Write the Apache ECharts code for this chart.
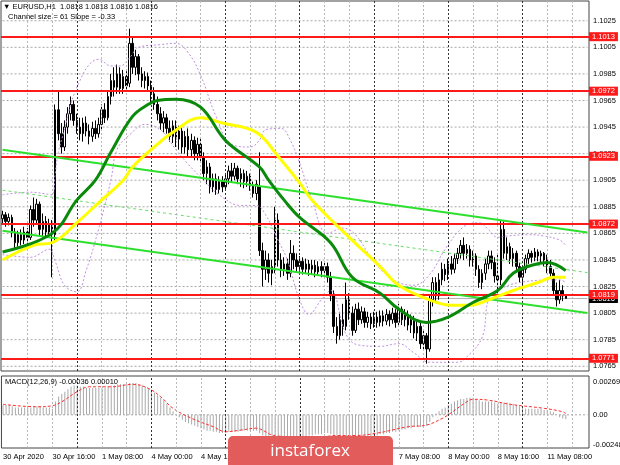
<!DOCTYPE html>
<html><head><meta charset="utf-8">
<script src="https://cdn.jsdelivr.net/npm/echarts@6/dist/echarts.min.js"></script>
<style>html,body{margin:0;padding:0;background:#fff}#c{width:620px;height:465px}</style>
</head><body><div id="c"></div>
<script>
// ---- categories (H1 bars) ----
const days = [['30 Apr',24],['1 May',24],['4 May',24],['5 May',24],['6 May',24],['7 May',24],['8 May',24],['11 May',22]];
const categories = [];
days.forEach(function(d){ for (let h=0; h<d[1]; h++) categories.push(d[0]+' '+String(h).padStart(2,'0')+':00'); });
categories[0] = '30 Apr 2020';

// ---- candles [open, close, low, high] ----
const ohlc = [
[1.0876,1.0879,1.0872,1.0882],[1.0879,1.0874,1.0870,1.0881],[1.0874,1.0877,1.0871,1.0880],[1.0877,1.0866,1.0862,1.0879],
[1.0866,1.0858,1.0854,1.0869],[1.0858,1.0864,1.0855,1.0867],[1.0864,1.0860,1.0856,1.0868],[1.0860,1.0866,1.0857,1.0870],
[1.0866,1.0862,1.0857,1.0869],[1.0862,1.0883,1.0860,1.0886],[1.0883,1.0875,1.0870,1.0892],[1.0875,1.0887,1.0872,1.0891],
[1.0887,1.0868,1.0863,1.0889],[1.0868,1.0874,1.0862,1.0880],[1.0874,1.0866,1.0862,1.0878],[1.0866,1.0872,1.0863,1.0876],
[1.0872,1.0864,1.0832,1.0875],[1.0864,1.0958,1.0858,1.0962],[1.0958,1.0940,1.0935,1.0972],[1.0940,1.0930,1.0925,1.0948],
[1.0930,1.0945,1.0927,1.0950],[1.0945,1.0955,1.0940,1.0960],[1.0955,1.0962,1.0950,1.0968],[1.0962,1.0950,1.0946,1.0965],
[1.0950,1.0945,1.0940,1.0955],[1.0945,1.0940,1.0935,1.0952],[1.0940,1.0948,1.0934,1.0952],[1.0948,1.0942,1.0938,1.0953],
[1.0942,1.0938,1.0932,1.0947],[1.0938,1.0944,1.0934,1.0949],[1.0944,1.0940,1.0936,1.0950],[1.0940,1.0947,1.0937,1.0952],
[1.0947,1.0958,1.0943,1.0962],[1.0958,1.0952,1.0948,1.0963],[1.0952,1.0968,1.0950,1.0972],[1.0968,1.0980,1.0962,1.0985],
[1.0980,1.0975,1.0968,1.0990],[1.0975,1.0985,1.0970,1.0992],[1.0985,1.0974,1.0970,1.0990],[1.0974,1.0983,1.0970,1.0988],
[1.0983,1.0976,1.0972,1.0987],[1.0978,1.1008,1.0975,1.1019],[1.1008,1.0990,1.0985,1.1012],[1.0990,1.0998,1.0984,1.1003],
[1.0998,1.0985,1.0980,1.1000],[1.0985,1.0980,1.0975,1.0990],[1.0980,1.0983,1.0974,1.0987],[1.0983,1.0976,1.0972,1.0986],
[1.0976,1.0970,1.0962,1.0980],[1.0970,1.0962,1.0958,1.0975],[1.0962,1.0955,1.0950,1.0968],[1.0955,1.0948,1.0943,1.0960],
[1.0948,1.0952,1.0941,1.0957],[1.0952,1.0944,1.0940,1.0955],[1.0944,1.0938,1.0934,1.0950],[1.0938,1.0946,1.0933,1.0950],
[1.0946,1.0936,1.0930,1.0950],[1.0936,1.0942,1.0928,1.0946],[1.0942,1.0930,1.0925,1.0945],[1.0930,1.0938,1.0925,1.0942],
[1.0938,1.0928,1.0923,1.0944],[1.0928,1.0935,1.0922,1.0940],[1.0935,1.0925,1.0920,1.0938],[1.0925,1.0932,1.0920,1.0937],
[1.0932,1.0922,1.0918,1.0936],[1.0922,1.0910,1.0905,1.0926],[1.0910,1.0915,1.0902,1.0920],[1.0915,1.0900,1.0895,1.0918],
[1.0900,1.0906,1.0896,1.0910],[1.0906,1.0898,1.0894,1.0910],[1.0898,1.0904,1.0895,1.0908],[1.0904,1.0900,1.0896,1.0908],
[1.0900,1.0906,1.0897,1.0910],[1.0906,1.0912,1.0902,1.0916],[1.0912,1.0908,1.0903,1.0918],[1.0908,1.0914,1.0905,1.0918],
[1.0914,1.0906,1.0902,1.0916],[1.0906,1.0910,1.0900,1.0914],[1.0910,1.0904,1.0899,1.0913],[1.0904,1.0908,1.0900,1.0912],
[1.0908,1.0901,1.0897,1.0910],[1.0901,1.0895,1.0892,1.0904],[1.0895,1.0902,1.0890,1.0905],[1.0900,1.0852,1.0848,1.0926],
[1.0852,1.0838,1.0825,1.0858],[1.0838,1.0845,1.0830,1.0852],[1.0845,1.0835,1.0828,1.0850],[1.0835,1.0840,1.0826,1.0845],
[1.0840,1.0875,1.0835,1.0885],[1.0875,1.0845,1.0840,1.0880],[1.0845,1.0838,1.0832,1.0850],[1.0838,1.0842,1.0833,1.0847],
[1.0842,1.0835,1.0830,1.0846],[1.0835,1.0850,1.0832,1.0860],[1.0850,1.0845,1.0838,1.0856],[1.0845,1.0840,1.0836,1.0850],
[1.0840,1.0844,1.0836,1.0848],[1.0844,1.0838,1.0834,1.0847],[1.0838,1.0842,1.0835,1.0846],[1.0842,1.0838,1.0833,1.0845],
[1.0838,1.0841,1.0834,1.0845],[1.0841,1.0836,1.0832,1.0845],[1.0836,1.0840,1.0833,1.0844],[1.0840,1.0837,1.0832,1.0844],
[1.0837,1.0840,1.0833,1.0843],[1.0840,1.0832,1.0828,1.0843],[1.0832,1.0818,1.0814,1.0836],[1.0818,1.0795,1.0790,1.0822],
[1.0795,1.0788,1.0782,1.0802],[1.0788,1.0800,1.0785,1.0806],[1.0800,1.0795,1.0788,1.0812],[1.0795,1.0815,1.0792,1.0828],
[1.0815,1.0805,1.0800,1.0820],[1.0805,1.0792,1.0788,1.0810],[1.0792,1.0808,1.0790,1.0812],[1.0808,1.0800,1.0796,1.0813],
[1.0800,1.0806,1.0797,1.0810],[1.0806,1.0798,1.0794,1.0809],[1.0798,1.0802,1.0794,1.0806],[1.0802,1.0797,1.0793,1.0805],
[1.0797,1.0802,1.0794,1.0806],[1.0802,1.0798,1.0794,1.0806],[1.0798,1.0803,1.0795,1.0807],[1.0803,1.0799,1.0795,1.0807],
[1.0799,1.0804,1.0796,1.0808],[1.0804,1.0800,1.0795,1.0807],[1.0800,1.0805,1.0797,1.0809],[1.0805,1.0798,1.0794,1.0808],
[1.0798,1.0808,1.0795,1.0812],[1.0808,1.0800,1.0796,1.0810],[1.0800,1.0804,1.0795,1.0808],[1.0804,1.0796,1.0792,1.0807],
[1.0796,1.0800,1.0790,1.0804],[1.0800,1.0790,1.0786,1.0803],[1.0790,1.0795,1.0784,1.0799],[1.0795,1.0782,1.0778,1.0798],
[1.0782,1.0788,1.0778,1.0792],[1.0788,1.0778,1.0767,1.0790],[1.0778,1.0815,1.0776,1.0818],[1.0815,1.0828,1.0810,1.0832],
[1.0828,1.0818,1.0814,1.0832],[1.0818,1.0830,1.0815,1.0835],[1.0830,1.0838,1.0826,1.0843],[1.0838,1.0834,1.0829,1.0842],
[1.0834,1.0842,1.0830,1.0846],[1.0842,1.0838,1.0834,1.0848],[1.0838,1.0846,1.0835,1.0850],[1.0846,1.0850,1.0842,1.0854],
[1.0850,1.0856,1.0846,1.0860],[1.0856,1.0850,1.0845,1.0862],[1.0850,1.0853,1.0846,1.0857],[1.0853,1.0845,1.0840,1.0856],
[1.0845,1.0848,1.0840,1.0852],[1.0848,1.0838,1.0833,1.0850],[1.0838,1.0828,1.0824,1.0841],[1.0828,1.0835,1.0823,1.0838],
[1.0835,1.0842,1.0830,1.0846],[1.0842,1.0848,1.0838,1.0852],[1.0848,1.0843,1.0838,1.0852],[1.0843,1.0833,1.0828,1.0847],
[1.0833,1.0830,1.0818,1.0850],[1.0830,1.0868,1.0826,1.0875],[1.0868,1.0850,1.0846,1.0874],[1.0850,1.0855,1.0845,1.0862],
[1.0855,1.0846,1.0842,1.0858],[1.0846,1.0850,1.0840,1.0854],[1.0850,1.0840,1.0836,1.0852],[1.0840,1.0832,1.0828,1.0843],
[1.0832,1.0838,1.0826,1.0841],[1.0838,1.0846,1.0835,1.0849],[1.0846,1.0850,1.0842,1.0853],[1.0850,1.0847,1.0843,1.0852],
[1.0847,1.0851,1.0844,1.0854],[1.0851,1.0848,1.0844,1.0853],[1.0848,1.0850,1.0843,1.0852],[1.0850,1.0845,1.0840,1.0851],
[1.0845,1.0840,1.0835,1.0849],[1.0840,1.0835,1.0832,1.0845],[1.0835,1.0822,1.0818,1.0838],[1.0822,1.0815,1.0810,1.0828],
[1.0815,1.0822,1.0812,1.0830],[1.0822,1.0818,1.0814,1.0826],[1.0818,1.0816,1.0816,1.0818]
];

// ---- moving averages / bands [barIndex, price] ----
const maGreen = [[0,1.0851],[16,1.0865],[24,1.0890],[30,1.0905],[35,1.0926],[42,1.0953],[47,1.0962],[50,1.0965],[56,1.0966],[64,1.0960],[72,1.0935],[83,1.0915],[86,1.0905],[91,1.0890],[96,1.0877],[106,1.0858],[113,1.0832],[122,1.0820],[128,1.0808],[137,1.0798],[144,1.0802],[152,1.0813],[160,1.0822],[165,1.0835],[171,1.0841],[176,1.0843],[182,1.0837]];
const maYellow = [[0,1.0845],[10,1.0856],[16,1.0858],[24,1.0873],[31,1.0888],[39,1.0905],[42,1.0915],[49,1.0930],[55,1.0941],[64,1.0952],[71,1.0948],[82,1.0941],[89,1.0923],[96,1.0903],[100,1.0890],[112,1.0862],[122,1.0840],[128,1.0826],[138,1.0815],[145,1.0811],[151,1.0811],[157,1.0815],[165,1.0822],[173,1.0828],[178,1.0832],[182,1.0832]];
const bandUpper = [[0,1.0894],[9,1.0896],[16,1.0894],[17,1.0910],[18,1.0926],[20,1.0943],[22,1.0962],[25,1.0980],[28,1.0992],[31,1.0996],[35,1.0991],[38,1.0991],[41,1.0997],[44,1.1005],[51,1.1007],[56,1.1008],[60,1.1001],[64,1.0984],[69,1.0953],[74,1.0932],[80,1.0930],[83,1.0935],[85,1.0943],[90,1.0944],[93,1.0935],[96,1.0918],[100,1.0890],[105,1.0865],[110,1.0869],[114,1.0864],[119,1.0847],[123,1.0836],[128,1.0828],[133,1.0826],[138,1.0834],[143,1.0853],[149,1.0870],[154,1.0873],[157,1.0868],[160,1.0862],[163,1.0863],[170,1.0864],[175,1.0863],[180,1.0860],[182,1.0856]];
const bandLower = [[0,1.0849],[9,1.0847],[15,1.0853],[17,1.0844],[20,1.0826],[24,1.0821],[27,1.0837],[31,1.0868],[35,1.0905],[37,1.0928],[41,1.0939],[46,1.0947],[51,1.0943],[56,1.0928],[60,1.0917],[65,1.0905],[70,1.0894],[77,1.0886],[82,1.0886],[85,1.0879],[89,1.0860],[92,1.0845],[96,1.0815],[99,1.0804],[103,1.0815],[106,1.0822],[111,1.0789],[115,1.0781],[122,1.0780],[128,1.0782],[133,1.0775],[138,1.0768],[147,1.0768],[150,1.0772],[155,1.0787],[157,1.0815],[160,1.0822],[167,1.0828],[180,1.0830],[182,1.0828]];

// ---- regression channel (endpoints) ----
const chanUpper = [[0,1.0928],[189,1.08656]];
const chanMid = [[0,1.08975],[189,1.08355]];
const chanLower = [[0,1.0867],[189,1.0805]];

// ---- levels and ticks ----
const redLevels = [1.1013, 1.0972, 1.0923, 1.0872, 1.0819, 1.0771];
const bidPrice = 1.0816;
const priceTicks = [1.0765,1.0785,1.0805,1.0825,1.0845,1.0865,1.0885,1.0905,1.0925,1.0945,1.0965,1.0985,1.1005,1.1025];
const macdLabels = [0.00269, 0, -0.00248];

// ---- MACD ----
const macdHist = [
0.0008,0.0008,0.0008,0.0007,0.0006,0.0006,0.0006,0.0006,0.0006,0.0006,0.0007,0.0007,0.0007,0.0006,0.0006,0.0006,0.0005,
0.0011,0.0015,0.0017,0.0019,0.0021,0.0023,0.0024,
0.0024,0.0023,0.0023,0.0022,0.0022,0.0022,0.0022,0.0022,0.0022,0.0022,0.0023,0.0024,0.0024,0.0025,0.0025,0.0025,0.0025,
0.0026,0.0026,0.0026,0.0025,0.0024,0.0023,0.0022,
0.0020,0.0018,0.0016,0.0014,0.0012,0.0009,0.0006,0.0003,
0.0000,-0.0002,-0.0004,-0.0006,-0.0007,-0.0008,-0.0009,-0.0010,-0.0011,-0.0012,-0.0013,-0.0013,
-0.0014,-0.0014,-0.0015,-0.0015,-0.0015,-0.0014,-0.0014,-0.0014,-0.0014,-0.0013,-0.0013,-0.0013,-0.0013,-0.0013,-0.0013,
-0.0015,-0.0017,-0.0019,-0.0020,-0.0020,-0.0019,-0.0019,-0.0020,-0.0020,-0.0020,-0.0019,-0.0019,-0.0019,
-0.0018,-0.0018,-0.0018,-0.0017,-0.0017,-0.0016,-0.0016,-0.0016,-0.0015,-0.0015,
-0.0016,-0.0018,-0.0020,-0.0021,-0.0021,-0.0020,-0.0020,-0.0021,-0.0020,-0.0020,-0.0019,-0.0019,-0.0018,
-0.0018,-0.0017,-0.0017,-0.0016,-0.0016,-0.0015,-0.0015,-0.0014,-0.0014,-0.0013,-0.0012,-0.0012,-0.0011,
-0.0011,-0.0010,-0.0010,-0.0010,-0.0009,-0.0009,-0.0006,-0.0002,
0.0001,0.0003,0.0005,0.0006,0.0008,0.0009,0.0011,0.0012,0.0013,0.0013,0.0014,0.0014,
0.0014,0.0013,0.0012,0.0011,0.0011,0.0011,0.0011,0.0010,0.0009,0.0010,0.0010,0.0010,0.0009,0.0009,0.0008,0.0007,
0.0006,0.0005,0.0005,0.0005,0.0005,0.0005,0.0005,0.0004,0.0004,0.0003,0.0002,0.0000,-0.0002,-0.0003,-0.00036
];
const macdSignal = [[0,0.00086],[11,0.00066],[16,0.00075],[19,0.00107],[24,0.0019],[28,0.0023],[35,0.0023],[42,0.0025],[47,0.00217],[51,0.00148],[55,0.00053],[61,-0.00029],[68,-0.00098],[72,-0.00139],[77,-0.00125],[82,-0.0011],[85,-0.0014],[87,-0.00166],[92,-0.0018],[100,-0.0019],[108,-0.0017],[114,-0.0017],[121,-0.0015],[131,-0.00098],[137,-0.00084],[142,-0.0003],[144,0],[150,0.00107],[152,0.00127],[157,0.0012],[164,0.00086],[175,0.00053],[181,0.00025],[182,0.0001]];

const FONT = 'Liberation Sans';
const lastSlot = categories.length - 1;

const vLines = [];
for (let i = 8; i < categories.length; i += 8) {
  vLines.push({xAxis: i, lineStyle: {color: i % 24 === 0 ? '#333' : '#b8b8b8', type: [2,2], width: 1}});
}
const tickLabelLines = priceTicks.map(function(v){
  return {yAxis: v, lineStyle: {color: 'rgba(0,0,0,0)', width: 0},
          label: {show: true, position: 'end', distance: 4, formatter: v.toFixed(4), color: '#000', fontSize: 7.5, fontFamily: FONT}};
});
const macdLabelLines = macdLabels.map(function(v){
  return {yAxis: v, lineStyle: {color: 'rgba(0,0,0,0)', width: 0},
          label: {show: true, position: 'end', distance: 4, formatter: v === 0 ? '0.00' : v.toFixed(5), color: '#000', fontSize: 7.5, fontFamily: FONT}};
});

// horizontal grid lines as two-point line series through the axes
const hGridSeries = priceTicks.map(function(v){
  return {type: 'line', xAxisIndex: 0, yAxisIndex: 0, data: [[0, v], [lastSlot, v]], symbol: 'none', silent: true, z: 1,
          lineStyle: {color: '#a8a8a8', width: 1, type: [2,2]}};
});
const zeroSeries = {type: 'line', xAxisIndex: 1, yAxisIndex: 1, data: [[0, 0], [lastSlot, 0]], symbol: 'none', silent: true, z: 1,
                    lineStyle: {color: '#a8a8a8', width: 1, type: [2,2]}};
const bidSeries = {type: 'line', xAxisIndex: 0, yAxisIndex: 0, data: [[0, bidPrice], [lastSlot, bidPrice]], symbol: 'none', silent: true, z: 2,
                   lineStyle: {color: '#b4b4b4', width: 1}};

const chart = echarts.init(document.getElementById('c'), null, {renderer: 'canvas'});
chart.setOption({
  animation: false,
  backgroundColor: '#fff',
  grid: [
    {left: 1, top: 1, width: 588, height: 370, show: true, borderColor: '#444', borderWidth: 1, backgroundColor: 'transparent'},
    {left: 1, top: 376, width: 588, height: 72, show: true, borderColor: '#444', borderWidth: 1, backgroundColor: 'transparent'}
  ],
  xAxis: [
    {type: 'category', gridIndex: 0, data: categories, boundaryGap: true, axisLine: {show: false}, axisTick: {show: false}, axisLabel: {show: false}, splitLine: {show: false}},
    {type: 'category', gridIndex: 1, data: categories, boundaryGap: true, axisLine: {show: false}, axisTick: {show: false}, splitLine: {show: false},
     axisLabel: {show: true, interval: function(i){ return i % 16 === 0 && i <= 176; }, align: 'left', margin: 5, color: '#000', fontSize: 7.5, fontFamily: FONT}}
  ],
  yAxis: [
    {type: 'value', gridIndex: 0, min: 1.076144, max: 1.103986, show: false},
    {type: 'value', gridIndex: 1, min: -0.002724, max: 0.003184, show: false}
  ],
  series: hGridSeries.concat([zeroSeries, bidSeries,
    {type: 'line', xAxisIndex: 0, yAxisIndex: 0, data: [], z: 1, silent: true,
     markLine: {silent: true, symbol: 'none', precision: 6, animation: false, label: {show: false}, data: vLines.concat(tickLabelLines)}},
    {type: 'line', xAxisIndex: 1, yAxisIndex: 1, data: [], z: 1, silent: true,
     markLine: {silent: true, symbol: 'none', precision: 8, animation: false, label: {show: false}, data: vLines.concat(macdLabelLines)}},
    {type: 'candlestick', xAxisIndex: 0, yAxisIndex: 0, data: ohlc, barWidth: 2, z: 3,
     itemStyle: {color: '#fff', color0: '#000', borderColor: '#000', borderColor0: '#000', borderWidth: 1}},
    {type: 'line', data: bandUpper, smooth: 0.4, symbol: 'none', z: 4, lineStyle: {color: '#bf8fe0', width: 1, type: [2,2]}},
    {type: 'line', data: bandLower, smooth: 0.4, symbol: 'none', z: 4, lineStyle: {color: '#bf8fe0', width: 1, type: [2,2]}},
    {type: 'line', data: chanMid, symbol: 'none', z: 4, lineStyle: {color: '#66e066', width: 1, type: [3,3]}},
    {type: 'line', data: chanUpper, symbol: 'none', z: 5, lineStyle: {color: '#2ee02e', width: 2}},
    {type: 'line', data: chanLower, symbol: 'none', z: 5, lineStyle: {color: '#2ee02e', width: 2}},
    {type: 'line', data: maYellow, smooth: 0.4, symbol: 'none', z: 6, lineStyle: {color: '#ffff00', width: 3}},
    {type: 'line', data: maGreen, smooth: 0.4, symbol: 'none', z: 6, lineStyle: {color: '#0a8a0a', width: 3}},
    {type: 'line', data: [], z: 7, silent: true,
     markLine: {silent: true, symbol: 'none', precision: 6, animation: false, data: [
       {yAxis: bidPrice, lineStyle: {color: 'rgba(0,0,0,0)', width: 0},
        label: {show: true, position: 'end', distance: 0, formatter: bidPrice.toFixed(4), color: '#fff', backgroundColor: '#000', padding: [1,3,0,3], fontSize: 7.5, fontFamily: FONT}}
     ]}},
    {type: 'line', data: [], z: 8, silent: true,
     markLine: {silent: true, symbol: 'none', precision: 6, animation: false, data: redLevels.map(function(v){
       return {yAxis: v, lineStyle: {color: '#ff1a1a', width: 2, type: 'solid'},
               label: {show: true, position: 'end', distance: 0, formatter: v.toFixed(4), color: '#fff', backgroundColor: '#ff1a1a', padding: [1,3,0,3], fontSize: 7.5, fontFamily: FONT}};
     })}},
    {type: 'bar', xAxisIndex: 1, yAxisIndex: 1, data: macdHist, barWidth: 1, z: 3, itemStyle: {color: '#a9a9a9'}},
    {type: 'line', xAxisIndex: 1, yAxisIndex: 1, data: macdSignal, smooth: 0.4, symbol: 'none', z: 4, lineStyle: {color: '#ff3030', width: 1, type: [3,2]}}
  ]),
  graphic: [
    {type: 'text', left: 3, top: 3, z: 100, style: {text: '▼ EURUSD,H1  1.0818 1.0818 1.0816 1.0816', fill: '#000', font: '7.5px "' + FONT + '"'}},
    {type: 'text', left: 8, top: 13, z: 100, style: {text: 'Channel size = 61 Slope = -0.33', fill: '#000', font: '7.5px "' + FONT + '"'}},
    {type: 'text', left: 5, top: 378, z: 100, style: {text: 'MACD(12,26,9) -0.00036 0.00010', fill: '#000', font: '7.5px "' + FONT + '"'}},
    {type: 'rect', z: 200, shape: {x: 228, y: 436, width: 165, height: 40, r: [5,5,0,0]}, style: {fill: '#e25c5c'}},
    {type: 'text', z: 201, x: 310, y: 451, style: {text: 'instaforex', fill: '#fff', font: '17px "Open Sans"', textAlign: 'center', textVerticalAlign: 'middle'}}
  ]
});
</script>
</body></html>
